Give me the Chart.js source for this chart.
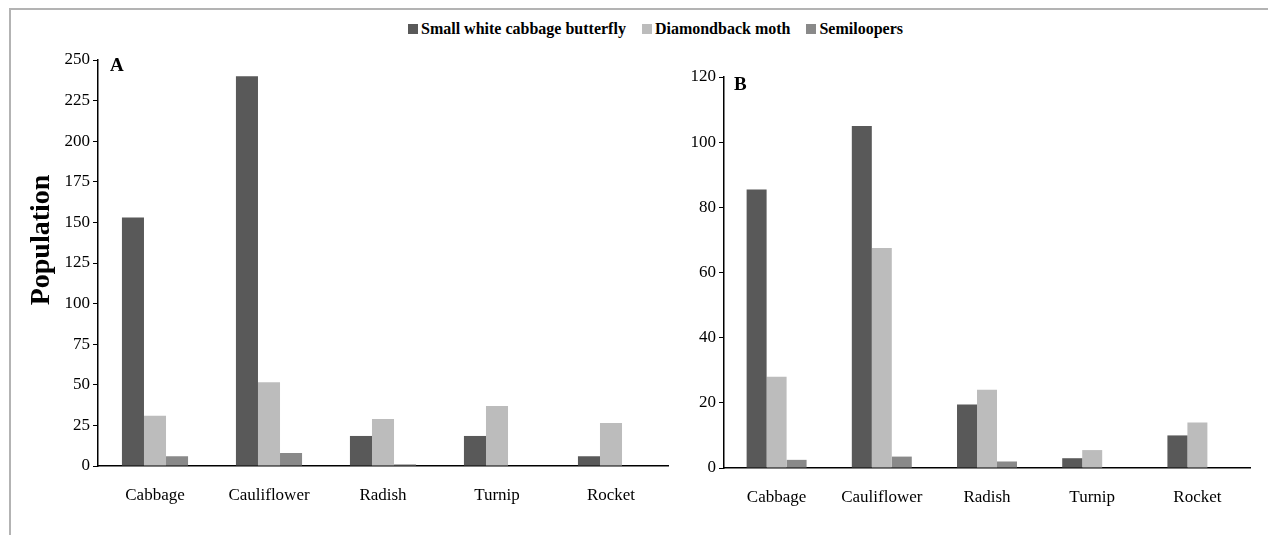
<!DOCTYPE html>
<html>
<head>
<meta charset="utf-8">
<script src="https://cdn.jsdelivr.net/npm/chart.js@4"></script>
<style>
  body { margin: 0; background: #fff; width: 1268px; height: 535px; overflow: hidden; position: relative; }
  #frame { position: absolute; left: 9px; top: 8px; width: 1300px; height: 600px; border: 2px solid #b3b3b3; }
  .wrap { position: absolute; top: 0; }
  #legend { position: absolute; left: 408px; top: 20px; display: flex; align-items: center;
            font-family: "Liberation Serif", serif; font-weight: bold; font-size: 16px; color: #000; }
  #legend span.item { display: flex; align-items: center; margin-right: 16px; }
  #legend span.box { display: inline-block; width: 10px; height: 10px; margin-right: 3px; }
</style>
</head>
<body>
<div id="frame"></div>
<div id="legend"></div>
<div class="wrap" style="left:0px"><canvas id="chartA" width="690" height="535"></canvas></div>
<div class="wrap" style="left:690px"><canvas id="chartB" width="578" height="535"></canvas></div>
<script>
const categories = ['Cabbage', 'Cauliflower', 'Radish', 'Turnip', 'Rocket'];
const seriesNames = ['Small white cabbage butterfly', 'Diamondback moth', 'Semiloopers'];
const seriesColors = ['#595959', '#bcbcbc', '#898989'];

// panel A
const butterflyA = [153, 240, 18.5, 18.5, 6];
const mothA = [31, 51.5, 29, 37, 26.5];
const semiA = [6, 8, 1, 0, 0];
// panel B
const butterflyB = [85.5, 105, 19.5, 3, 10];
const mothB = [28, 67.5, 24, 5.5, 14];
const semiB = [2.5, 3.5, 2, 0, 0];

const serif = 'Liberation Serif';

// legend
const legendEl = document.getElementById('legend');
seriesNames.forEach((name, i) => {
    const item = document.createElement('span');
    item.className = 'item';
    item.innerHTML = '<span class="box" style="background:' + seriesColors[i] + '"></span>' + name;
    legendEl.appendChild(item);
});

// draws the panel letter and (optionally) the y title
const panelText = {
    id: 'panelText',
    afterDraw(chart, args, opts) {
        const ctx = chart.ctx;
        const area = chart.chartArea;
        ctx.save();
        ctx.fillStyle = '#000';
        ctx.font = 'bold 19px "' + serif + '"';
        ctx.textBaseline = 'top';
        ctx.fillText(opts.letter, area.left + opts.dx, area.top + opts.dy);
        if (opts.yTitle) {
            ctx.translate(opts.yTitleX, opts.yTitleY);
            ctx.rotate(-Math.PI / 2);
            ctx.font = 'bold 28px "' + serif + '"';
            ctx.textAlign = 'center';
            ctx.textBaseline = 'middle';
            ctx.fillText(opts.yTitle, 0, 0);
        }
        ctx.restore();
    }
};

function makeChart(id, values, yMax, yStep, axisWidth, xHeight, pad, catPct, plugOpts) {
    return new Chart(document.getElementById(id), {
        type: 'bar',
        data: {
            labels: categories,
            datasets: values.map((v, i) => ({
                label: seriesNames[i],
                data: v,
                backgroundColor: seriesColors[i],
                borderWidth: 0,
                barPercentage: 1.0,
                categoryPercentage: catPct
            }))
        },
        options: {
            responsive: false,
            animation: false,
            layout: { padding: pad },
            plugins: {
                legend: { display: false },
                tooltip: { enabled: false },
                panelText: plugOpts
            },
            scales: {
                x: {
                    grid: { display: false },
                    border: { color: '#000', width: 1.5 },
                    ticks: { color: '#000', padding: 11, font: { family: serif, size: 17 } },
                    afterFit(scale) { scale.height = xHeight; }
                },
                y: {
                    min: 0,
                    max: yMax,
                    grid: { drawOnChartArea: false, drawTicks: true, tickLength: 5, color: '#000', tickColor: '#000' },
                    border: { color: '#000', width: 1.5 },
                    ticks: { stepSize: yStep, color: '#000', padding: 3, font: { family: serif, size: 17 } },
                    afterFit(scale) { scale.width = axisWidth; }
                }
            }
        },
        plugins: [panelText]
    });
}

makeChart('chartA', [butterflyA, mothA, semiA], 250, 25, 98, 69,
    { left: 0, right: 22, top: 60, bottom: 0 }, 0.58,
    { letter: 'A', dx: 12, dy: -3, yTitle: 'Population', yTitleX: 42, yTitleY: 240 });

makeChart('chartB', [butterflyB, mothB, semiB], 120, 20, 34, 67,
    { left: 0, right: 18, top: 77, bottom: 0 }, 0.57,
    { letter: 'B', dx: 10, dy: -1 });
</script>
</body>
</html>
